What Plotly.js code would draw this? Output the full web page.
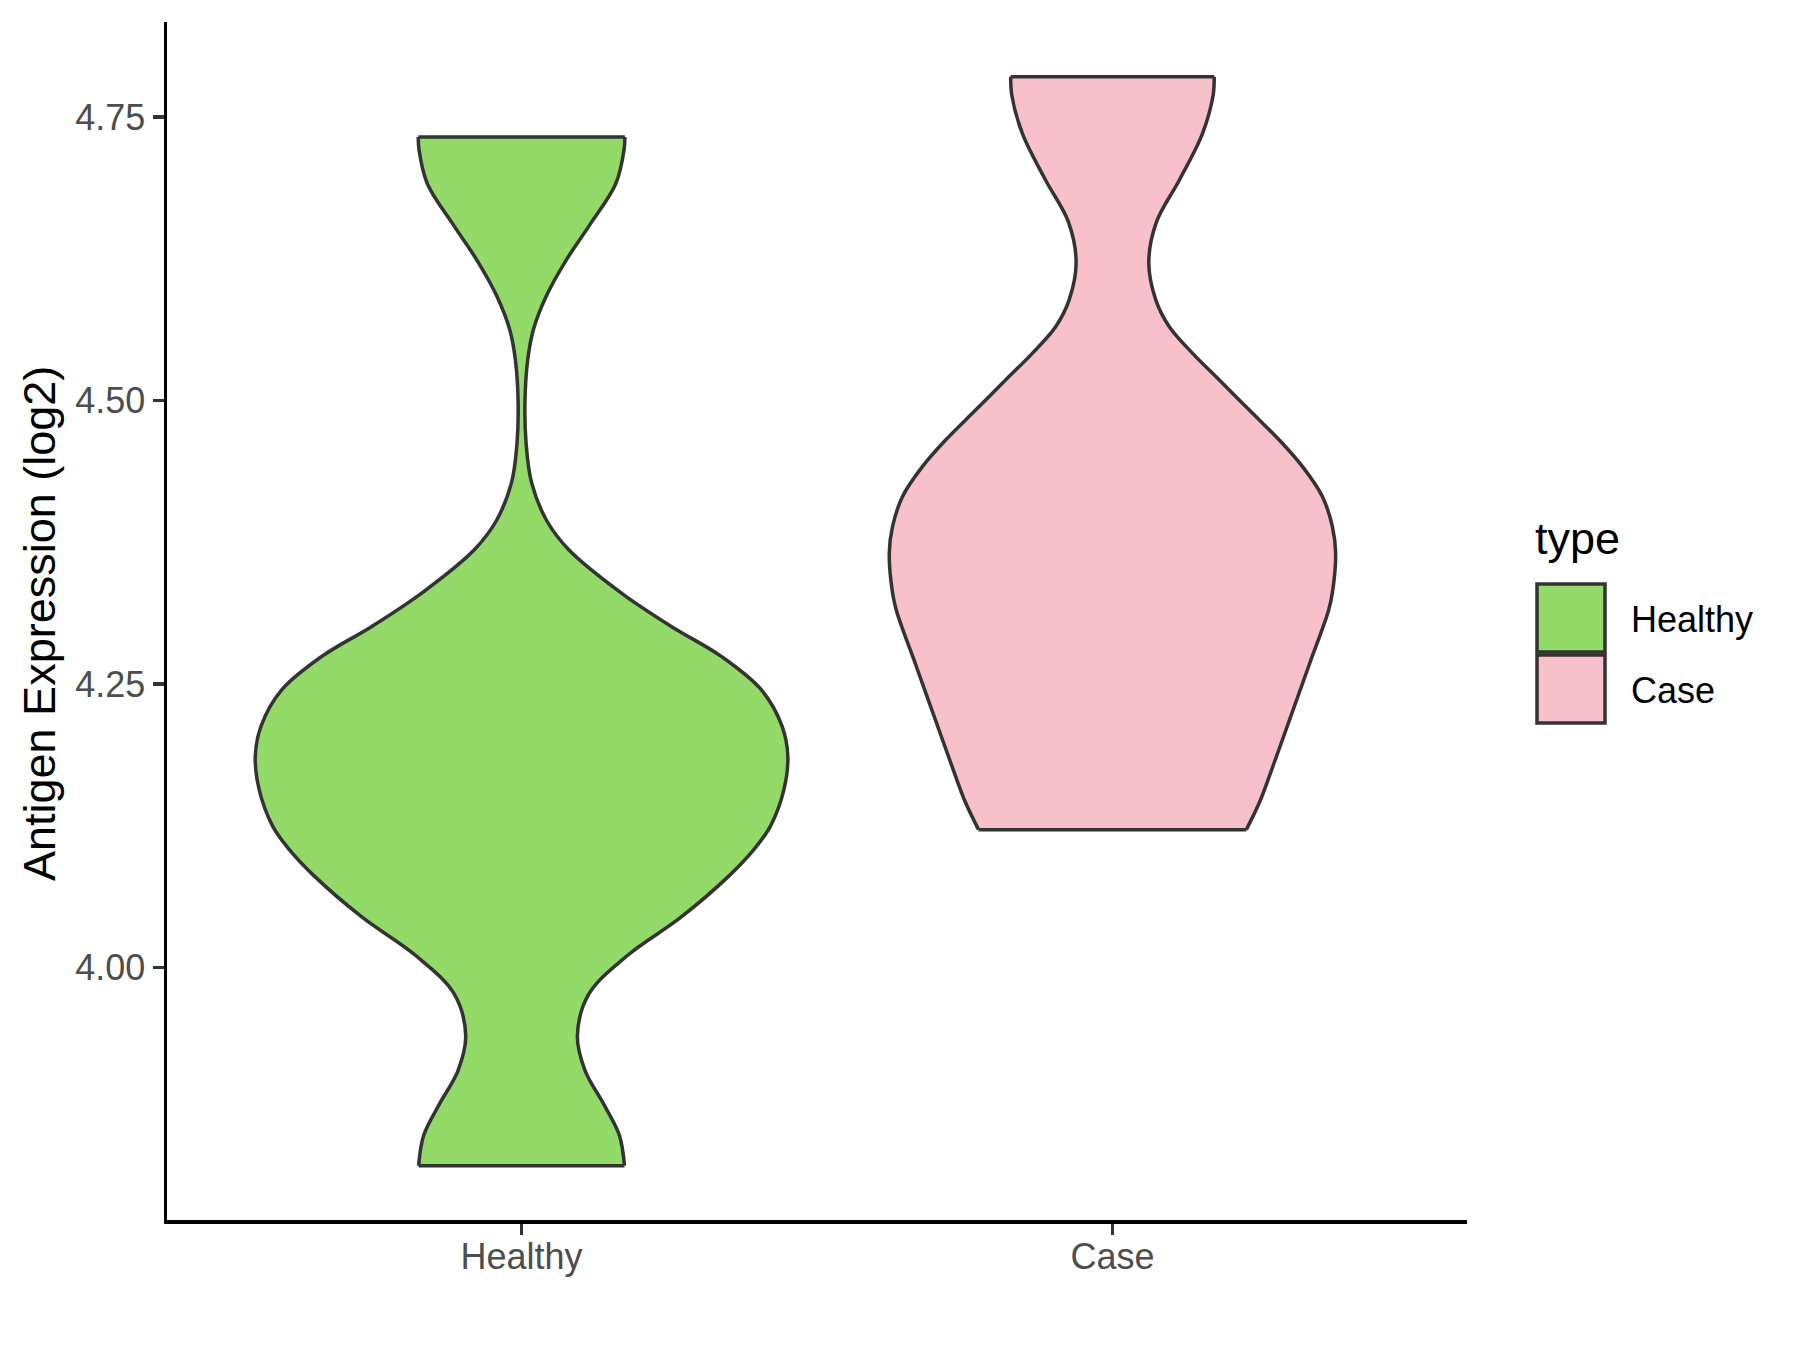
<!DOCTYPE html>
<html>
<head>
<meta charset="utf-8">
<script src="https://cdn.plot.ly/plotly-3.0.1.min.js"></script>
<style>
  html, body { margin: 0; padding: 0; background: #ffffff; }
  #chart { width: 1800px; height: 1350px; }
</style>
</head>
<body>
<div id="chart"></div>
<script>
// ---- Data (violin outlines: value, half-width in category units) ----
const categories = ["Healthy", "Case"];
const fillColors = ["#93DA69", "#F7C0CB"];
const yTickValues = [4.00, 4.25, 4.50, 4.75];
const legendTitle = "type";
const yAxisTitle = "Antigen Expression (log2)";

const healthyY = [3.8252, 3.8518, 3.8788, 3.9091, 3.9395, 3.9766, 4.0103, 4.0441, 4.0812, 4.1039,
                  4.1244, 4.1568, 4.1862, 4.2126, 4.2449, 4.2743, 4.3007, 4.3301, 4.3683, 4.3939,
                  4.4277, 4.4614, 4.4985, 4.5356, 4.5626, 4.5929, 4.6233, 4.6537, 4.6908, 4.7211, 4.7323];
const healthyHalfWidth = [0.1742, 0.1657, 0.1398, 0.1075, 0.0945, 0.1140, 0.1786, 0.2693, 0.3520, 0.3930,
                          0.4210, 0.4440, 0.4506, 0.4410, 0.4056, 0.3380, 0.2534, 0.1690, 0.0800, 0.0427,
                          0.0169, 0.0078, 0.0058, 0.0104, 0.0201, 0.0427, 0.0751, 0.1140, 0.1592, 0.1735, 0.1748];

const caseY = [4.1215, 4.1461, 4.1731, 4.2203, 4.2676, 4.3148, 4.3301, 4.3654, 4.3889, 4.4153,
               4.4418, 4.4653, 4.4917, 4.5182, 4.5417, 4.5652, 4.5887, 4.6218, 4.6573, 4.6944,
               4.7348, 4.7686, 4.7854];
const caseHalfWidth = [0.2266, 0.2492, 0.2686, 0.3010, 0.3334, 0.3657, 0.3721, 0.3777, 0.3721, 0.3552,
                       0.3214, 0.2820, 0.2312, 0.1805, 0.1353, 0.0959, 0.0733, 0.0615, 0.0744, 0.1133,
                       0.1520, 0.1702, 0.1722];

const violins = [
  { name: categories[0], y: healthyY, w: healthyHalfWidth, color: fillColors[0] },
  { name: categories[1], y: caseY, w: caseHalfWidth, color: fillColors[1] }
];

// ---- Styling ----
const FONT = "Liberation Sans, Arial, Helvetica, sans-serif";
const OUTLINE = "#333333";
const OUTLINE_W = 3.5;

const traces = [];
violins.forEach((v, i) => {
  const pos = i + 1;
  const n = v.y.length;
  // left edge
  traces.push({
    type: "scatter", mode: "lines", name: v.name, showlegend: false, hoverinfo: "skip",
    x: v.w.map(w => pos - w), y: v.y,
    line: { shape: "spline", smoothing: 1, color: OUTLINE, width: OUTLINE_W }
  });
  // right edge, filled to the left edge
  traces.push({
    type: "scatter", mode: "lines", name: v.name, showlegend: false, hoverinfo: "skip",
    x: v.w.map(w => pos + w), y: v.y,
    fill: "tonextx", fillcolor: v.color,
    line: { shape: "spline", smoothing: 1, color: OUTLINE, width: OUTLINE_W }
  });
  // flat bottom and top caps
  traces.push({
    type: "scatter", mode: "lines", name: v.name, showlegend: false, hoverinfo: "skip",
    x: [pos - v.w[0], pos + v.w[0], null, pos - v.w[n - 1], pos + v.w[n - 1]],
    y: [v.y[0], v.y[0], null, v.y[n - 1], v.y[n - 1]],
    line: { shape: "linear", color: OUTLINE, width: OUTLINE_W }
  });
});

// ---- Manual legend (ggplot-style keys) ----
const PLOT_L = 167, PLOT_W = 1300, PLOT_T = 22, PLOT_H = 1198;
const px = X => (X - PLOT_L) / PLOT_W;
const py = Y => (PLOT_T + PLOT_H - Y) / PLOT_H;

const shapes = [];
const annotations = [];
const keyLeft = 1537, keyRight = 1605, keyTops = [584, 655], keyH = 68;
categories.forEach((c, i) => {
  shapes.push({
    type: "rect", xref: "paper", yref: "paper",
    x0: px(keyLeft), x1: px(keyRight), y0: py(keyTops[i] + keyH), y1: py(keyTops[i]),
    fillcolor: fillColors[i], line: { color: OUTLINE, width: OUTLINE_W }
  });
  annotations.push({
    xref: "paper", yref: "paper", x: px(1629), y: py(keyTops[i] + keyH / 2 + 1),
    xanchor: "left", yanchor: "middle", showarrow: false, text: c,
    font: { family: FONT, size: 36, color: "#000000" }
  });
});
annotations.push({
  xref: "paper", yref: "paper", x: px(1533), y: py(538),
  xanchor: "left", yanchor: "middle", showarrow: false, text: legendTitle,
  font: { family: FONT, size: 45, color: "#000000" }
});
// y axis title
annotations.push({
  xref: "paper", yref: "paper", x: px(39), y: py(624),
  xanchor: "center", yanchor: "middle", showarrow: false, textangle: -90,
  text: yAxisTitle, font: { family: FONT, size: 45, color: "#000000" }
});

const layout = {
  width: 1800, height: 1350,
  margin: { l: PLOT_L, r: 1800 - PLOT_L - PLOT_W, t: PLOT_T, b: 1350 - PLOT_T - PLOT_H, pad: 0 },
  paper_bgcolor: "#ffffff", plot_bgcolor: "#ffffff",
  showlegend: false,
  font: { family: FONT },
  xaxis: {
    range: [0.4, 2.6], tickmode: "array", tickvals: [1, 2], ticktext: categories,
    showgrid: false, zeroline: false, showline: true, linecolor: "#000000", linewidth: 3.5,
    ticks: "outside", ticklen: 11, tickwidth: 3.5, tickcolor: OUTLINE, ticklabelstandoff: -9,
    tickfont: { family: FONT, size: 36, color: "#4D4D4D" }, fixedrange: true
  },
  yaxis: {
    range: [3.7773, 4.8337], tickmode: "array", tickvals: yTickValues,
    ticktext: yTickValues.map(v => v.toFixed(2)),
    showgrid: false, zeroline: false, showline: true, linecolor: "#000000", linewidth: 3.5,
    ticks: "outside", ticklen: 11, tickwidth: 3.5, tickcolor: OUTLINE,
    tickfont: { family: FONT, size: 36, color: "#4D4D4D" }, fixedrange: true
  },
  shapes: shapes,
  annotations: annotations
};

Plotly.newPlot("chart", traces, layout, { displayModeBar: false, staticPlot: true });
</script>
</body>
</html>
